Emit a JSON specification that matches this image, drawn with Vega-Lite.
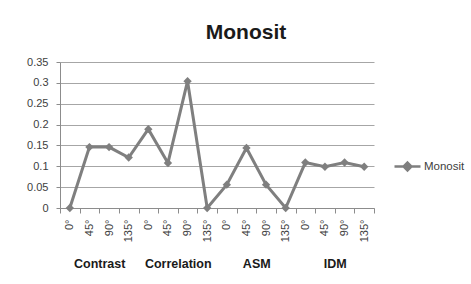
{
  "$schema": "https://vega.github.io/schema/vega-lite/v6.json",
  "width": 314,
  "height": 146,
  "autosize": {"type": "none"},
  "padding": {"left": 60, "top": 62, "right": 97, "bottom": 76},
  "background": "white",
  "title": {
    "text": "Monosit",
    "font": "Liberation Sans",
    "fontSize": 21,
    "fontWeight": "bold",
    "color": "#1a1a1a",
    "anchor": "middle",
    "dx": 29,
    "offset": 13
  },
  "data": {
    "values": [
      {"group": "Contrast", "angle": "0°", "key": "Contrast|0°", "value": 0},
      {"group": "Contrast", "angle": "45°", "key": "Contrast|45°", "value": 0.146},
      {"group": "Contrast", "angle": "90°", "key": "Contrast|90°", "value": 0.146},
      {"group": "Contrast", "angle": "135°", "key": "Contrast|135°", "value": 0.121},
      {"group": "Correlation", "angle": "0°", "key": "Correlation|0°", "value": 0.189},
      {"group": "Correlation", "angle": "45°", "key": "Correlation|45°", "value": 0.108},
      {"group": "Correlation", "angle": "90°", "key": "Correlation|90°", "value": 0.304},
      {"group": "Correlation", "angle": "135°", "key": "Correlation|135°", "value": 0},
      {"group": "ASM", "angle": "0°", "key": "ASM|0°", "value": 0.056},
      {"group": "ASM", "angle": "45°", "key": "ASM|45°", "value": 0.144},
      {"group": "ASM", "angle": "90°", "key": "ASM|90°", "value": 0.056},
      {"group": "ASM", "angle": "135°", "key": "ASM|135°", "value": 0},
      {"group": "IDM", "angle": "0°", "key": "IDM|0°", "value": 0.109},
      {"group": "IDM", "angle": "45°", "key": "IDM|45°", "value": 0.099},
      {"group": "IDM", "angle": "90°", "key": "IDM|90°", "value": 0.109},
      {"group": "IDM", "angle": "135°", "key": "IDM|135°", "value": 0.099}
    ]
  },
  "layer": [
    {
      "mark": {
        "type": "line",
        "strokeWidth": 3,
        "point": {"shape": "diamond", "size": 70, "filled": true}
      },
      "encoding": {
        "x": {
          "field": "key",
          "type": "nominal",
          "sort": null,
          "scale": {"paddingInner": 0, "paddingOuter": 0},
          "axis": {
            "title": null,
            "labelExpr": "split(datum.label, '|')[1]",
            "labelAngle": -90,
            "labelFont": "Liberation Sans",
            "labelFontSize": 11,
            "labelColor": "#404040",
            "labelPadding": 6,
            "tickBand": "extent",
            "tickSize": 5,
            "tickColor": "#8c8c8c",
            "domainColor": "#8c8c8c",
            "grid": false
          }
        },
        "y": {
          "field": "value",
          "type": "quantitative",
          "scale": {"domain": [0, 0.35], "nice": false},
          "axis": {
            "title": null,
            "values": [0, 0.05, 0.1, 0.15, 0.2, 0.25, 0.3, 0.35],
            "format": "~g",
            "labelFont": "Liberation Sans",
            "labelFontSize": 11,
            "labelColor": "#404040",
            "labelPadding": 8,
            "tickSize": 4,
            "tickColor": "#8c8c8c",
            "domainColor": "#8c8c8c",
            "gridColor": "#a6a6a6",
            "gridWidth": 1
          }
        },
        "color": {
          "datum": "Monosit",
          "type": "nominal",
          "scale": {"range": ["#7f7f7f"]},
          "legend": {
            "title": null,
            "orient": "none",
            "legendX": 333,
            "legendY": 90,
            "labelFont": "Liberation Sans",
            "labelFontSize": 11.5,
            "labelColor": "#404040",
            "symbolType": "M-1,0H1M0,-0.3L0.3,0L0,0.3L-0.3,0Z",
            "symbolSize": 676,
            "symbolStrokeWidth": 2.5,
            "symbolFillColor": "#7f7f7f",
            "labelOffset": 2
          }
        }
      }
    },
    {
      "mark": {"type": "point", "opacity": 0},
      "encoding": {
        "x": {
          "field": "group",
          "type": "nominal",
          "sort": null,
          "scale": {"paddingInner": 0, "paddingOuter": 0},
          "axis": {
            "orient": "bottom",
            "title": null,
            "labelAngle": 0,
            "offset": 49,
            "domain": false,
            "ticks": false,
            "grid": false,
            "labelPadding": 0,
            "labelFont": "Liberation Sans",
            "labelFontSize": 12.5,
            "labelFontWeight": "bold",
            "labelColor": "#1a1a1a"
          }
        }
      }
    }
  ],
  "resolve": {"scale": {"x": "independent"}, "axis": {"x": "independent"}},
  "config": {"view": {"stroke": null}}
}
